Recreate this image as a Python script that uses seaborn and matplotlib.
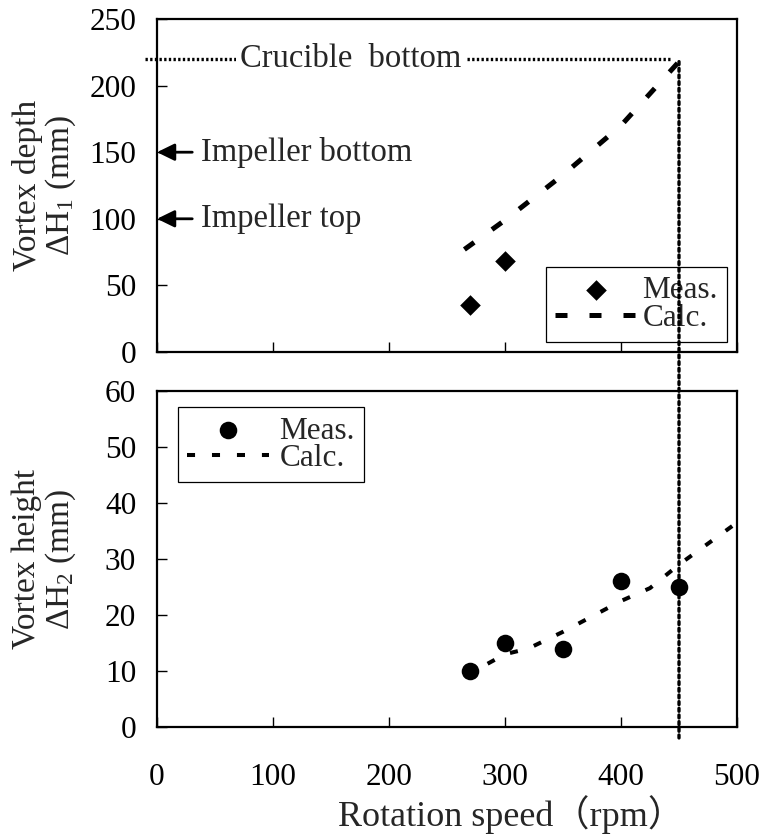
import matplotlib
matplotlib.use("Agg")
import matplotlib.pyplot as plt
from matplotlib.patches import ConnectionPatch
import seaborn as sns

# Upper panel: vortex depth ΔH1
depth_meas_rpm = [270, 300]
depth_meas_mm = [35, 68]
depth_calc_rpm = [265, 300, 350, 400, 450]
depth_calc_mm = [77, 99, 133, 170, 218]

# Lower panel: vortex height ΔH2
height_meas_rpm = [270, 300, 350, 400, 450]
height_meas_mm = [10, 15, 14, 26, 25]
height_calc_rpm = [285, 300, 320, 350, 400, 425, 450, 500]
height_calc_mm = [11.3, 13, 14, 17, 22.5, 24.8, 29, 36.5]

# Reference levels in the crucible
crucible_bottom_mm = 220
crucible_rpm = 450
crucible_line_rpm = [-10, 442]
impeller_levels = [("Impeller bottom", 150), ("Impeller top", 100)]

x_ticks = [0, 100, 200, 300, 400, 500]
depth_ticks = [0, 50, 100, 150, 200, 250]
height_ticks = [0, 10, 20, 30, 40, 50, 60]

sns.set_theme(style="ticks")
plt.rcParams["font.family"] = ["Liberation Serif", "Noto Sans CJK JP"]
plt.rcParams["mathtext.fontset"] = "custom"
plt.rcParams["mathtext.rm"] = "Liberation Serif"
plt.rcParams["mathtext.it"] = "Liberation Serif:italic"

FS = 22.5          # tick labels and legends
FS_NOTE = 23.5     # annotations
FS_LABEL = 24      # axis titles
W, H = 763, 834
fig = plt.figure(figsize=(W / 100, H / 100), dpi=100)
fig.patch.set_facecolor("white")

ax1 = fig.add_axes([157 / W, 1 - 352 / H, 580 / W, 333 / H])
ax2 = fig.add_axes([157 / W, 1 - 727 / H, 580 / W, 336 / H])

for ax in (ax1, ax2):
    ax.set_facecolor("white")
    for sp in ax.spines.values():
        sp.set_visible(True)
        sp.set_color("black")
        sp.set_linewidth(1.6)
    ax.tick_params(axis="both", direction="in", length=7, width=1.0,
                   colors="black", labelsize=FS, top=False, right=False)
    ax.tick_params(axis="y", pad=15)
    ax.tick_params(axis="x", pad=26)
    ax.set_xlim(0, 500)
    ax.set_xticks(x_ticks)

# ---- upper panel ----
sns.scatterplot(x=depth_meas_rpm, y=depth_meas_mm, ax=ax1, marker="D",
                s=110, color="black", edgecolor="black", linewidth=0,
                label="Meas.", zorder=3)
sns.lineplot(x=depth_calc_rpm, y=depth_calc_mm, ax=ax1, color="black",
             linewidth=3.6, linestyle=(0, (2.4, 4.4)), label="Calc.",
             dash_capstyle="butt", zorder=3)
ax1.set_ylim(0, 250)
ax1.set_yticks(depth_ticks)
ax1.tick_params(axis="x", labelbottom=False)
ax1.set_xlabel("")
ax1.set_ylabel("Vortex depth\nΔH$_1$ (mm)", fontsize=FS_LABEL, va="center",
               linespacing=1.05)
ax1.yaxis.set_label_coords(-0.193, 0.5)

h1, l1 = ax1.get_legend_handles_labels()
leg1 = ax1.legend(h1, l1, loc="lower right", bbox_to_anchor=(0.983, 0.03),
                  fontsize=FS, frameon=True, fancybox=False, framealpha=1,
                  edgecolor="black", handlelength=2.6, handletextpad=0.2,
                  labelspacing=-0.05, borderpad=0.3, borderaxespad=0,
                  scatterpoints=1)
leg1.get_frame().set_linewidth(0.9)

# crucible bottom level and its rotation speed
ax1.plot(crucible_line_rpm, [crucible_bottom_mm] * 2, color="black",
         linewidth=2.4, linestyle=(0, (0.7, 0.7)), clip_on=False, zorder=2)
ax1.text(167, crucible_bottom_mm, "Crucible  bottom", fontsize=FS_NOTE,
         ha="center", va="center", zorder=4,
         bbox=dict(facecolor="white", edgecolor="none", pad=3))

for label, level in impeller_levels:
    ax1.annotate(label, xy=(0, level), xytext=(38, level), fontsize=FS_NOTE,
                 ha="left", va="center",
                 arrowprops=dict(arrowstyle="-|>,head_length=0.45,head_width=0.22",
                                 color="black", lw=2.0, shrinkA=4, shrinkB=0))

# ---- lower panel ----
sns.scatterplot(x=height_meas_rpm, y=height_meas_mm, ax=ax2, marker="o",
                s=160, color="black", edgecolor="black", linewidth=0,
                label="Meas.", zorder=3)
sns.lineplot(x=height_calc_rpm, y=height_calc_mm, ax=ax2, color="black",
             linewidth=2.9, linestyle=(0, (2.0, 4.2)), label="Calc.",
             dash_capstyle="butt", zorder=3)
ax2.set_ylim(0, 60)
ax2.set_yticks(height_ticks)
ax2.set_xlabel("Rotation speed（rpm）", fontsize=26, labelpad=2)
ax2.xaxis.label.set_x(0.61)
ax2.set_ylabel("Vortex height\nΔH$_2$ (mm)", fontsize=FS_LABEL, va="center",
               linespacing=1.05)
ax2.yaxis.set_label_coords(-0.193, 0.5)

h2, l2 = ax2.get_legend_handles_labels()
leg2 = ax2.legend(h2, l2, loc="upper left", bbox_to_anchor=(0.036, 0.952),
                  fontsize=FS, frameon=True, fancybox=False, framealpha=1,
                  edgecolor="black", handlelength=2.6, handletextpad=0.35,
                  labelspacing=-0.05, borderpad=0.3, borderaxespad=0,
                  scatterpoints=1)
leg2.get_frame().set_linewidth(0.9)

# vertical dotted line at the crucible rotation speed across both panels
con = ConnectionPatch(xyA=(crucible_rpm, 218), coordsA=ax1.transData,
                      xyB=(crucible_rpm, -2), coordsB=ax2.transData,
                      color="black", linewidth=2.4, linestyle=(0, (0.9, 1.1)),
                      zorder=5)
fig.add_artist(con)

fig.savefig("out.png", dpi=100, facecolor="white")
